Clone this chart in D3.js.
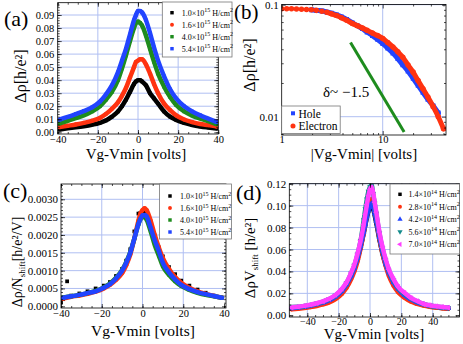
<!DOCTYPE html>
<html>
<head>
<meta charset="utf-8">
<script src="https://cdn.jsdelivr.net/npm/d3@7"></script>
<style>
  body { margin: 0; background: #fff; }
  svg { display: block; }
</style>
</head>
<body>
<svg width="463" height="344"></svg>
<script>
// ---- panel (a): delta rho vs Vg-Vmin for four H densities
const xA = [-39,-35,-31,-27,-23,-19,-16,-13,-10,-8,-6,-4,-2,-1,0,1,2,4,6,8,10,13,16,19,23,27,31,35,39];
const blackA = [0.0022,0.003,0.0038,0.0047,0.0058,0.0073,0.009,0.012,0.016,0.020,0.025,0.031,0.037,0.039,0.040,0.040,0.039,0.036,0.030,0.026,0.022,0.016,0.012,0.0095,0.0072,0.0056,0.0045,0.0037,0.003];
const redA = [0.004,0.005,0.006,0.0072,0.0088,0.011,0.014,0.018,0.023,0.028,0.034,0.042,0.050,0.054,0.055,0.056,0.056,0.052,0.045,0.037,0.030,0.022,0.017,0.013,0.0098,0.0078,0.0064,0.0055,0.0045];
const greenA = [0.0068,0.0088,0.0108,0.013,0.016,0.020,0.025,0.031,0.040,0.049,0.059,0.070,0.080,0.084,0.085,0.084,0.082,0.074,0.064,0.054,0.045,0.035,0.027,0.021,0.016,0.0128,0.0105,0.0085,0.0062];
const blueA = [0.0098,0.0118,0.014,0.0163,0.019,0.0235,0.029,0.036,0.046,0.055,0.064,0.075,0.086,0.090,0.093,0.093,0.092,0.086,0.076,0.065,0.055,0.043,0.033,0.026,0.020,0.016,0.013,0.0105,0.008];
const densA = ['1.0', '1.6', '4.0', '5.4'];

// ---- panel (b): log-log, hole vs electron side
const xB = [1,1.12,1.25,1.4,1.57,1.76,1.97,2.2,2.5,2.8,3.1,3.5,3.9,4.4,5,5.6,6.3,7,7.9,8.9,10,11.2,12.6,14.1,15.8,17.8,20,22.4,25,28,31.6,35.5,40];
const holeB = [null,null,null,null,null,null,0.090,0.089,0.088,0.086,0.084,0.081,0.078,0.074,0.069,0.065,0.061,0.057,0.053,0.049,0.045,0.041,0.037,0.033,0.029,0.0255,0.022,0.019,0.0165,0.0143,0.0125,0.0108,null];
const electronB = [0.092,0.092,0.092,0.0915,0.091,0.0905,0.090,0.089,0.0875,0.0855,0.083,0.080,0.0765,0.0725,0.068,0.065,0.062,0.059,0.056,0.053,0.050,0.046,0.042,0.038,0.034,0.029,0.025,0.021,0.0178,0.015,0.0123,0.010,0.0078];
const slopeX = [4.8, 16.3];
const slopeY = [0.046, 0.0073];

// ---- panel (c): delta rho / N_shift
const xC = xA;
const blackC = [0.0002,0.0003,0.00036,0.00042,0.0005,0.00058,0.00068,0.00085,0.00105,0.00128,0.0016,0.0021,0.0026,0.00262,0.0026,0.00262,0.00258,0.0023,0.00195,0.00165,0.0014,0.0011,0.0009,0.00072,0.00058,0.00047,0.00038,0.0003,0.00025];
const redC = [0.00022,0.00027,0.0003,0.00035,0.00041,0.0005,0.0006,0.00074,0.00093,0.00115,0.00145,0.0019,0.0024,0.0026,0.0027,0.00275,0.0027,0.0024,0.002,0.00165,0.00135,0.00105,0.00082,0.00066,0.00052,0.00042,0.00035,0.00029,0.00024];
const greenC = [0.00025,0.00028,0.00032,0.00037,0.00043,0.00053,0.00064,0.0008,0.00102,0.00124,0.00152,0.0019,0.0023,0.00245,0.0025,0.0025,0.00243,0.0021,0.00172,0.00142,0.00112,0.00088,0.0007,0.00057,0.00046,0.00038,0.00032,0.00028,0.00024];
const blueC = [0.00024,0.00028,0.00032,0.00037,0.00042,0.00052,0.00062,0.00078,0.001,0.00122,0.0015,0.0019,0.0023,0.00245,0.00255,0.00256,0.00252,0.0022,0.00185,0.00155,0.00122,0.00095,0.00075,0.0006,0.00048,0.0004,0.00034,0.00029,0.00024];
const outlierXC = [-40, -37];
const outlierYC = [0.0001, 0.0007];

// ---- panel (d): delta rho * V_shift for five lower densities
const xD = [-50,-46,-42,-38,-34,-30,-26,-22,-18,-15,-12,-10,-8,-6,-4,-3,-2,-1,0,1,2,3,4,6,8,10,12,15,18,22,26,30,34,38,42,46,50];
const blackD = [0.0062,0.0067,0.0074,0.0082,0.0093,0.0108,0.013,0.0162,0.021,0.027,0.035,0.042,0.051,0.062,0.075,0.082,0.089,0.095,0.099,0.100,0.097,0.091,0.084,0.069,0.056,0.046,0.038,0.030,0.023,0.0175,0.0138,0.0113,0.0096,0.0083,0.0074,0.0067,0.0062];
const redD = [0.0055,0.006,0.0067,0.0075,0.0085,0.0099,0.0118,0.0148,0.0195,0.025,0.033,0.040,0.049,0.061,0.075,0.083,0.091,0.099,0.104,0.106,0.102,0.095,0.087,0.070,0.056,0.045,0.036,0.027,0.021,0.016,0.0125,0.0104,0.0089,0.0078,0.007,0.0064,0.006];
const blueD = [0.0065,0.007,0.0077,0.0086,0.0099,0.0115,0.0137,0.017,0.022,0.028,0.036,0.043,0.052,0.063,0.076,0.083,0.090,0.096,0.100,0.102,0.099,0.093,0.086,0.071,0.058,0.047,0.039,0.030,0.024,0.0183,0.0145,0.0118,0.0099,0.0087,0.0077,0.007,0.0065];
const tealD = [0.0075,0.0077,0.0085,0.0095,0.0108,0.0125,0.0148,0.0182,0.0235,0.0295,0.0385,0.0455,0.0555,0.068,0.087,0.097,0.106,0.113,0.117,0.119,0.111,0.102,0.093,0.075,0.061,0.050,0.041,0.032,0.025,0.0198,0.0155,0.0128,0.0103,0.009,0.008,0.0074,0.0068];
const pinkD = [0.0072,0.0078,0.0086,0.0096,0.011,0.0127,0.015,0.0185,0.024,0.030,0.039,0.046,0.056,0.068,0.083,0.092,0.101,0.109,0.115,0.117,0.112,0.103,0.094,0.076,0.062,0.051,0.042,0.033,0.026,0.0205,0.016,0.013,0.0105,0.0092,0.0083,0.0076,0.007];
const densD = ['1.4', '2.8', '4.2', '5.6', '7.0'];

// tick values
const aYTicks = d3.range(0, 0.0901, 0.01);
const linTicks40 = [-40, -20, 0, 20, 40];
const cYTicks = d3.range(0, 0.00301, 0.0005);
const dYTicks = d3.range(0, 0.1201, 0.02);

const svg = d3.select('svg');
const serif = '"Liberation Serif", "DejaVu Serif", serif';
const gridColor = '#b0bff2';
const cBlack = '#000000', cRed = '#ff3311', cGreen = '#1e8c1e', cBlue = '#2244ff';
const cTeal = '#148c8c', cPink = '#ff40ff';

function setupPanel(o) {
    const [l, t, r, b] = o.box;
    const g = svg.append('g');
    const inX = v => o.x(v) >= l - 0.1 && o.x(v) <= r + 0.1;
    const inY = v => o.y(v) >= t - 0.1 && o.y(v) <= b + 0.1;

    g.selectAll(null).data(o.xGrid).enter().append('line')
        .attr('x1', d => o.x(d)).attr('x2', d => o.x(d))
        .attr('y1', t).attr('y2', b)
        .attr('stroke', gridColor).attr('stroke-width', 1);
    g.selectAll(null).data(o.yGrid).enter().append('line')
        .attr('x1', l).attr('x2', r)
        .attr('y1', d => o.y(d)).attr('y2', d => o.y(d))
        .attr('stroke', gridColor).attr('stroke-width', 1);

    svg.append('clipPath').attr('id', 'clip-' + o.name)
        .append('rect').attr('x', l).attr('y', t).attr('width', r - l).attr('height', b - t);
    const plot = g.append('g').attr('clip-path', `url(#clip-${o.name})`);

    const axes = g.append('g');
    const ax = (axis, tr, fs) => {
        const a = axes.append('g').attr('transform', tr).call(axis);
        a.select('.domain').remove();
        a.selectAll('line').attr('stroke', '#000').attr('stroke-width', 0.7);
        a.attr('font-family', serif).attr('font-size', fs || 11);
        a.selectAll('text').attr('fill', '#000');
        return a;
    };
    const xMaj = o.xTicks.filter(inX), xMin = o.xMinor.filter(inX);
    const yMaj = o.yTicks.filter(inY), yMin = o.yMinor.filter(inY);
    ax(d3.axisBottom(o.x).tickValues(xMaj).tickFormat(o.xFmt).tickSize(-4).tickPadding(o.xPad || 2), `translate(0,${b})`, o.xfs);
    ax(d3.axisBottom(o.x).tickValues(xMin).tickFormat('').tickSize(-2), `translate(0,${b})`);
    ax(d3.axisTop(o.x).tickValues(xMaj).tickFormat('').tickSize(-4), `translate(0,${t})`);
    ax(d3.axisTop(o.x).tickValues(xMin).tickFormat('').tickSize(-2), `translate(0,${t})`);
    ax(d3.axisLeft(o.y).tickValues(yMaj).tickFormat(o.yFmt).tickSize(-4).tickPadding(o.yPad || 3), `translate(${l},0)`, o.yfs);
    ax(d3.axisLeft(o.y).tickValues(yMin).tickFormat('').tickSize(-2), `translate(${l},0)`);
    ax(d3.axisRight(o.y).tickValues(yMaj).tickFormat('').tickSize(-4), `translate(${r},0)`);
    ax(d3.axisRight(o.y).tickValues(yMin).tickFormat('').tickSize(-2), `translate(${r},0)`);

    g.append('rect').attr('x', l).attr('y', t).attr('width', r - l).attr('height', b - t)
        .attr('fill', 'none').attr('stroke', '#000').attr('stroke-width', 0.8);
    return plot;
}

function drawSeries(plot, o, xs, ys, s) {
    const pts = xs.map((x, i) => [x, ys[i]]).filter(p => p[1] != null);
    if (s.lw) {
        const lp = pts.filter(p => p[0] >= (s.lineFrom == null ? -Infinity : s.lineFrom));
        plot.append('path').datum(lp)
            .attr('d', d3.line().curve(d3.curveMonotoneX).x(p => o.x(p[0])).y(p => o.y(p[1])))
            .attr('fill', 'none').attr('stroke', s.color).attr('stroke-width', s.lw)
            .attr('stroke-linejoin', 'round').attr('stroke-linecap', 'round');
    }
    plot.selectAll(null).data(pts).enter().append('path')
        .attr('transform', p => `translate(${o.x(p[0])},${o.y(p[1])}) rotate(${s.rot || 0})`)
        .attr('d', d3.symbol().type(s.shape).size(s.size))
        .attr('fill', s.color);
}

function legend(box, rows, opt) {
    const [x0, y0, w, h] = box;
    const g = svg.append('g');
    g.append('rect').attr('x', x0).attr('y', y0).attr('width', w).attr('height', h)
        .attr('fill', '#fff').attr('stroke', '#777').attr('stroke-width', 0.8);
    rows.forEach((r, i) => {
        const cy = y0 + opt.first + i * opt.step;
        g.append('path')
            .attr('transform', `translate(${x0 + opt.mx},${cy}) rotate(${r.rot || 0})`)
            .attr('d', d3.symbol().type(r.shape).size(opt.ms)).attr('fill', r.color);
        const t = g.append('text').attr('x', x0 + opt.tx).attr('y', cy + 3)
            .attr('font-family', serif).attr('font-size', 8).attr('fill', '#000');
        t.append('tspan').text(r.dens + '\u00d710');
        t.append('tspan').attr('dy', -3.5).attr('font-size', 6).text(r.exp);
        t.append('tspan').attr('dy', 3.5).text(' H/cm');
        t.append('tspan').attr('dy', -3.5).attr('font-size', 6).text('2');
    });
}

function label(x, y, txt, size, anchor) {
    return svg.append('text').attr('x', x).attr('y', y).attr('font-family', serif)
        .attr('font-size', size).attr('text-anchor', anchor || 'start').attr('fill', '#000').text(txt);
}

function yTitle(x, y, parts, size) {
    const t = svg.append('text').attr('transform', `translate(${x},${y}) rotate(-90)`)
        .attr('font-family', serif).attr('font-size', size).attr('text-anchor', 'middle').attr('fill', '#000');
    parts.forEach(p => {
        const s = t.append('tspan').text(p.t);
        if (p.dy) s.attr('dy', p.dy);
        if (p.fs) s.attr('font-size', p.fs);
    });
}

const sq = d3.symbolSquare, ci = d3.symbolCircle, tri = d3.symbolTriangle;
const fmt2 = d3.format('.2f'), fmt4 = d3.format('.4f');

// ---------- (a)
const pa = {
    name: 'a', box: [57.7, 2.7, 218.3, 134],
    x: d3.scaleLinear().domain([-40, 40]).range([57.7, 218.3]),
    y: d3.scaleLinear().domain([0, 0.09]).range([132.3, 15]),
    xTicks: linTicks40, xMinor: d3.range(-40, 41, 5), xGrid: [-20, 0, 20], xFmt: d3.format('d'),
    yTicks: aYTicks, yMinor: d3.range(0, 0.1, 0.002), yGrid: aYTicks.slice(1), yFmt: fmt2,
    xPad: 1.5, yPad: 3.5, xfs: 10.5, yfs: 10.5
};
const plotA = setupPanel(pa);
drawSeries(plotA, pa, xA, blackA, { color: cBlack, shape: sq, size: 12, lw: 4.5 });
drawSeries(plotA, pa, xA, redA, { color: cRed, shape: ci, size: 14, lw: 4.5 });
drawSeries(plotA, pa, xA, greenA, { color: cGreen, shape: sq, size: 12, lw: 4.5 });
drawSeries(plotA, pa, xA, blueA, { color: cBlue, shape: sq, size: 12, lw: 4.5 });
legend([162.3, 2, 69.7, 55], [
    { dens: densA[0], exp: '15', color: cBlack, shape: sq },
    { dens: densA[1], exp: '15', color: cRed, shape: ci },
    { dens: densA[2], exp: '15', color: cGreen, shape: sq },
    { dens: densA[3], exp: '15', color: cBlue, shape: sq }
], { first: 10.7, step: 12, mx: 9.7, tx: 19.4, ms: 12 });
label(4, 26, '(a)', 22);
label(136, 158.5, 'Vg-Vmin [volts]', 15, 'middle');
yTitle(26, 76, [{ t: '\u0394\u03c1[h/e\u00b2]' }], 16);

// ---------- (b)
const pb = {
    name: 'b', box: [281.7, 4.5, 446, 135],
    x: d3.scaleLog().domain([1, 10]).range([281.7, 382.7]),
    y: d3.scaleLog().domain([0.01, 0.1]).range([116.7, 4.7]),
    xTicks: [1, 10], xMinor: [2,3,4,5,6,7,8,9,20,30,40], xGrid: [10], xFmt: d3.format('d'),
    yTicks: [0.01, 0.1], yMinor: [0.007,0.008,0.009,0.02,0.03,0.04,0.05,0.06,0.07,0.08,0.09], yGrid: [0.01, 0.1],
    yFmt: d => d === 0.1 ? '0.1' : '0.01', xPad: 0.5, yPad: 3, xfs: 10.5
};
const plotB = setupPanel(pb);
drawSeries(plotB, pb, xB, holeB, { color: cBlue, shape: sq, size: 22, lw: 5 });
drawSeries(plotB, pb, xB, electronB, { color: cRed, shape: ci, size: 24, lw: 5, lineFrom: 2.8 });
plotB.append('path').datum(slopeX.map((x, i) => [x, slopeY[i]]))
    .attr('d', d3.line().x(p => pb.x(p[0])).y(p => pb.y(p[1])))
    .attr('stroke', '#1e8c1e').attr('stroke-width', 3).attr('fill', 'none');
label(323, 96.5, '\u03b4~ \u22121.5', 15);
const lb = svg.append('g');
lb.append('rect').attr('x', 281.7).attr('y', 106).attr('width', 58.5).attr('height', 27.5)
    .attr('fill', '#fff').attr('stroke', '#777').attr('stroke-width', 0.8);
lb.append('path').attr('transform', 'translate(293,113.3)').attr('d', d3.symbol().type(sq).size(16)).attr('fill', cBlue);
lb.append('path').attr('transform', 'translate(293,126)').attr('d', d3.symbol().type(ci).size(20)).attr('fill', cRed);
label(298.5, 117.5, 'Hole', 11.5);
label(298.5, 130.2, 'Electron', 11.5);
label(234, 19, '(b)', 21);
label(364, 158.5, '|Vg-Vmin| [volts]', 15, 'middle');
yTitle(255, 65, [{ t: '\u0394\u03c1[h/e\u00b2]' }], 16);

// ---------- (c)
const pc = {
    name: 'c', box: [61, 184, 226, 308],
    x: d3.scaleLinear().domain([-40, 40]).range([61, 224]),
    y: d3.scaleLinear().domain([0, 0.003]).range([306.3, 199.3]),
    xTicks: linTicks40, xMinor: d3.range(-40, 41, 5), xGrid: [-20, 0, 20], xFmt: d3.format('d'),
    yTicks: cYTicks, yMinor: d3.range(0, 0.0035, 0.0001), yGrid: cYTicks.slice(1), yFmt: fmt4,
    xPad: 2, yPad: 3, xfs: 10.5
};
const plotC = setupPanel(pc);
drawSeries(plotC, pc, xC, blackC, { color: cBlack, shape: sq, size: 14 });
drawSeries(plotC, pc, outlierXC, outlierYC, { color: cBlack, shape: sq, size: 14 });
drawSeries(plotC, pc, xC, redC, { color: cRed, shape: ci, size: 14, lw: 4.5 });
drawSeries(plotC, pc, xC, greenC, { color: cGreen, shape: sq, size: 12, lw: 4.5 });
drawSeries(plotC, pc, xC, blueC, { color: cBlue, shape: sq, size: 12, lw: 4.5 });
legend([159.5, 184, 72, 55], [
    { dens: densA[0], exp: '15', color: cBlack, shape: sq },
    { dens: densA[1], exp: '15', color: cRed, shape: ci },
    { dens: densA[2], exp: '15', color: cGreen, shape: sq },
    { dens: densA[3], exp: '15', color: cBlue, shape: sq }
], { first: 12, step: 12, mx: 10.5, tx: 20.5, ms: 12 });
label(3, 198, '(c)', 22);
label(143, 336, 'Vg-Vmin [volts]', 15.5, 'middle');
yTitle(22, 262, [{ t: '\u0394\u03c1/N' }, { t: 'shift', dy: 3, fs: 9 }, { t: '[h/e\u00b2/V]', dy: -3 }], 14);

// ---------- (d)
const pd = {
    name: 'd', box: [289.3, 183.7, 459.5, 317],
    x: d3.scaleLinear().domain([-40, 40]).range([307.3, 432.7]),
    y: d3.scaleLinear().domain([0, 0.12]).range([315.3, 183.7]),
    xTicks: linTicks40, xMinor: d3.range(-50, 56, 5), xGrid: linTicks40, xFmt: d3.format('d'),
    yTicks: dYTicks, yMinor: d3.range(0, 0.121, 0.005), yGrid: dYTicks.slice(1), yFmt: fmt2,
    xPad: 0.5, yPad: 3, xfs: 10
};
const plotD = setupPanel(pd);
drawSeries(plotD, pd, xD, blackD, { color: cBlack, shape: sq, size: 12, lw: 4.5 });
drawSeries(plotD, pd, xD, redD, { color: cRed, shape: ci, size: 14, lw: 4.5 });
drawSeries(plotD, pd, xD, blueD, { color: cBlue, shape: tri, size: 14, lw: 4.5 });
drawSeries(plotD, pd, xD, tealD, { color: cTeal, shape: tri, size: 14, lw: 4.5, rot: 180 });
drawSeries(plotD, pd, xD, pinkD, { color: cPink, shape: tri, size: 14, lw: 4.5, rot: -90 });
legend([390, 184, 69.5, 70], [
    { dens: densD[0], exp: '14', color: cBlack, shape: sq },
    { dens: densD[1], exp: '14', color: cRed, shape: ci },
    { dens: densD[2], exp: '14', color: cBlue, shape: tri },
    { dens: densD[3], exp: '14', color: cTeal, shape: tri, rot: 180 },
    { dens: densD[4], exp: '14', color: cPink, shape: tri, rot: -90 }
], { first: 10.3, step: 12.5, mx: 10, tx: 18.5, ms: 12 });
label(236, 199.5, '(d)', 22);
label(374, 339, 'Vg-Vmin [volts]', 15, 'middle');
yTitle(255, 258, [{ t: '\u0394\u03c1V' }, { t: 'shift', dy: 3, fs: 9 }, { t: ' [h/e\u00b2]', dy: -3 }], 15);
</script>
</body>
</html>
